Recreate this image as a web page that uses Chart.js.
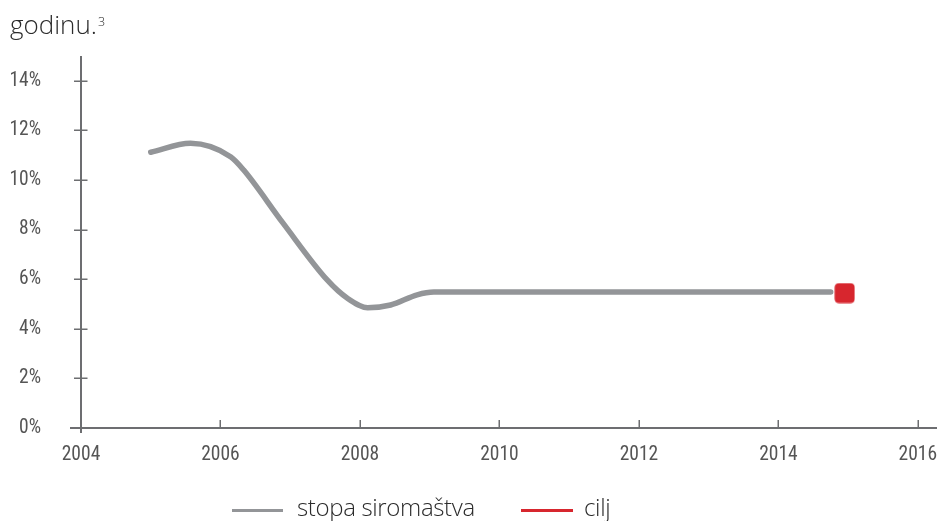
<!DOCTYPE html>
<html>
<head>
<meta charset="utf-8">
<script src="https://cdn.jsdelivr.net/npm/chart.js@4"></script>
<style>
  html, body { margin: 0; padding: 0; background: #fff; }
  #wrap { position: relative; width: 937px; height: 521px; overflow: hidden; }
  #c { position: absolute; left: 0; top: 0; }
  .title { position: absolute; left: 10px; top: 11px; font-family: "Open Sans", sans-serif; font-weight: 300; font-size: 26px; line-height: 26px; color: #2b2b2b; white-space: nowrap; }
  .title sup { font-size: 12.5px; vertical-align: 8px; line-height: 0; margin-left: 1px; }
  .lg-line { position: absolute; height: 3px; top: 508.5px; }
  .lg-text { position: absolute; font-family: "Open Sans", sans-serif; font-weight: 300; font-size: 24px; line-height: 24px; top: 495px; color: #2b2b2b; white-space: nowrap; letter-spacing: -0.35px; }
</style>
</head>
<body>
<div id="wrap">
  <canvas id="c" width="937" height="521"></canvas>
  <div class="title">godinu.<sup>3</sup></div>
  <div class="lg-line" style="left:232px;width:51px;background:#939598"></div>
  <div class="lg-text" id="lg1" style="left:297px">stopa siromaštva</div>
  <div class="lg-line" style="left:521px;width:52px;background:#d7262e"></div>
  <div class="lg-text" id="lg2" style="left:584px">cilj</div>
</div>
<script>
// ---- data ----
const years = [2005, 2005.57, 2006.15, 2006.33, 2006.9, 2007.53, 2007.82, 2008.11, 2008.44, 2008.82, 2009.06, 2014.75];
const povertyRate = [11.12, 11.48, 10.93, 10.41, 8.25, 5.97, 5.23, 4.85, 4.96, 5.37, 5.48, 5.48];
const targetYears = [2014.95];
const targetValues = [5.44];
const xTickValues = [2004, 2006, 2008, 2010, 2012, 2014, 2016];
const yTickValues = [0, 2, 4, 6, 8, 10, 12, 14];
const seriesNames = ['stopa siromaštva', 'cilj'];

const GRAY = '#939598';
const RED = '#d7262e';
const AXIS = '#6d6e71';
const LABEL = '#555555';

// rounded square marker
const marker = document.createElement('canvas');
marker.width = 21; marker.height = 21;
(function () {
  const g = marker.getContext('2d');
  const r = 4.5, w = 20, h = 20, x = 0.5, y = 0.5;
  g.fillStyle = RED;
  g.beginPath();
  g.moveTo(x + r, y);
  g.lineTo(x + w - r, y); g.quadraticCurveTo(x + w, y, x + w, y + r);
  g.lineTo(x + w, y + h - r); g.quadraticCurveTo(x + w, y + h, x + w - r, y + h);
  g.lineTo(x + r, y + h); g.quadraticCurveTo(x, y + h, x, y + h - r);
  g.lineTo(x, y + r); g.quadraticCurveTo(x, y, x + r, y);
  g.closePath(); g.fill();
})();

const axesPlugin = {
  id: 'axesPlugin',
  beforeDatasetsDraw(chart) {
    const { ctx, chartArea, scales } = chart;
    const xs = scales.x, ys = scales.y;
    const x0 = xs.getPixelForValue(xs.min);
    const y0 = ys.getPixelForValue(0);
    ctx.save();
    ctx.strokeStyle = AXIS;
    ctx.lineWidth = 2;
    ctx.beginPath();
    ctx.moveTo(x0, chartArea.top); ctx.lineTo(x0, y0 + 5);
    ctx.moveTo(x0 - 11, y0); ctx.lineTo(chart.width, y0);
    ctx.stroke();
    ctx.lineWidth = 1.5;
    ctx.beginPath();
    yTickValues.forEach(v => {
      if (v === 0) return;
      const y = Math.round(ys.getPixelForValue(v)) + 0.25;
      ctx.moveTo(x0 - 7, y); ctx.lineTo(x0 + 6.5, y);
    });
    xTickValues.forEach(v => {
      if (v === xs.min) return;
      const x = Math.round(xs.getPixelForValue(v)) + 0.25;
      ctx.moveTo(x, y0 - 8); ctx.lineTo(x, y0);
    });
    ctx.stroke();
    ctx.restore();
  }
};

const tickFont = { family: '"Liberation Sans Narrow", "Roboto Condensed", "Liberation Sans", sans-serif', size: 19.5 };

new Chart(document.getElementById('c'), {
  type: 'line',
  data: {
    datasets: [
      {
        label: seriesNames[0],
        data: years.map((x, i) => ({ x, y: povertyRate[i] })),
        borderColor: GRAY,
        backgroundColor: GRAY,
        borderWidth: 5.5,
        borderCapStyle: 'round',
        borderJoinStyle: 'round',
        pointRadius: 0,
        pointHoverRadius: 0,
        cubicInterpolationMode: 'monotone',
        fill: false
      },
      {
        label: seriesNames[1],
        data: targetYears.map((x, i) => ({ x, y: targetValues[i] })),
        borderColor: RED,
        backgroundColor: RED,
        borderWidth: 0,
        showLine: false,
        pointStyle: marker,
        pointRadius: 1,
        pointHoverRadius: 1
      }
    ]
  },
  options: {
    responsive: false,
    animation: false,
    events: [],
    layout: { padding: { top: 56, left: 0, right: 0, bottom: 0 } },
    plugins: { legend: { display: false }, tooltip: { enabled: false }, title: { display: false } },
    scales: {
      x: {
        type: 'linear',
        min: 2004,
        max: 2016.26,
        afterBuildTicks: s => { s.ticks = xTickValues.map(v => ({ value: v })); },
        afterFit: s => { s.height = 93; s.paddingLeft = 0; s.paddingRight = 0; },
        grid: { display: false, drawTicks: true, tickLength: 15 },
        border: { display: false },
        ticks: { font: tickFont, color: LABEL, padding: 0, maxRotation: 0, autoSkip: false, callback: v => String(v) }
      },
      y: {
        type: 'linear',
        min: 0,
        max: 15,
        afterBuildTicks: s => { s.ticks = yTickValues.map(v => ({ value: v })); },
        afterFit: s => { s.width = 81; s.paddingTop = 0; s.paddingBottom = 0; },
        grid: { display: false, drawTicks: true, tickLength: 40 },
        border: { display: false },
        ticks: { font: tickFont, color: LABEL, padding: 0, autoSkip: false, callback: v => v + '%' }
      }
    }
  },
  plugins: [axesPlugin]
});
</script>
</body>
</html>
